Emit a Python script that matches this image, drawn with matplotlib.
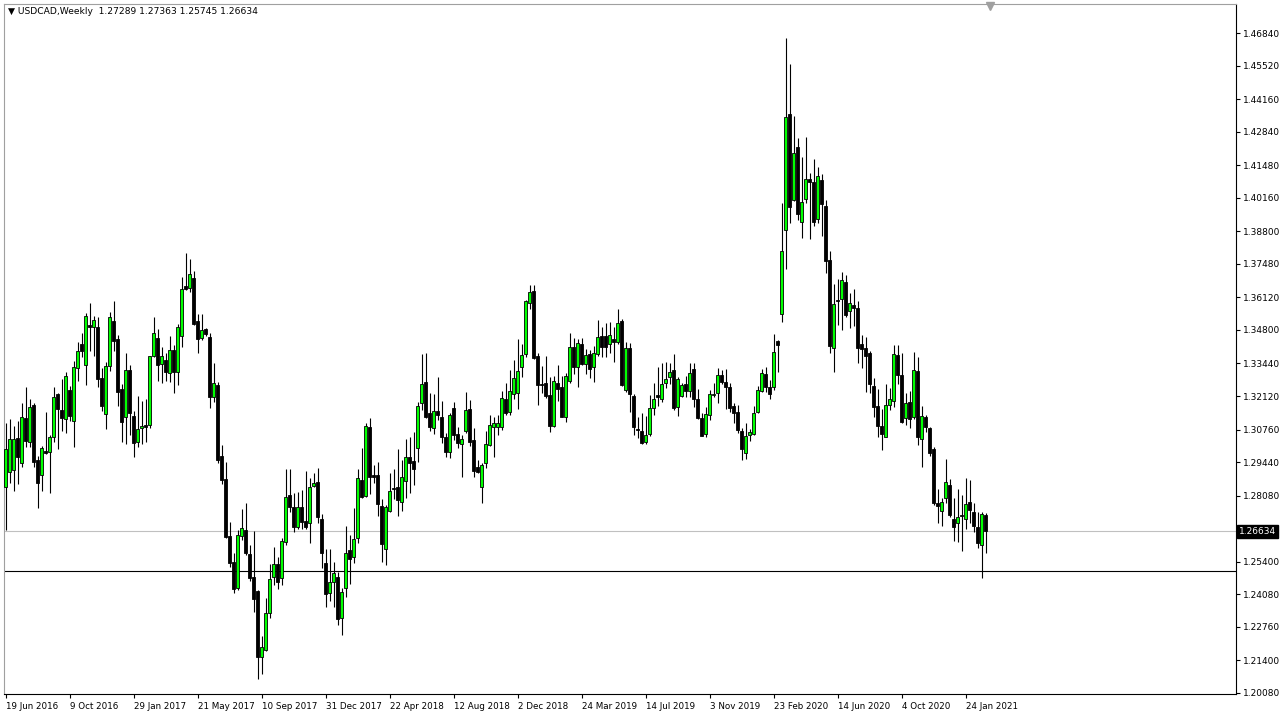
import numpy as np
import matplotlib.pyplot as plt
import matplotlib.transforms as mtransforms

# USDCAD weekly candles, 19 Jun 2016 .. 28 Feb 2021
opens = [
    1.2842, 1.2905, 1.2912, 1.3041, 1.2939, 1.3122, 1.3027, 1.3174, 1.2953, 1.2890,
    1.2988, 1.2986, 1.3047, 1.3220, 1.3155, 1.3118, 1.3236, 1.3112, 1.3324, 1.3422,
    1.3336, 1.3500, 1.3491, 1.3491, 1.3284, 1.3138, 1.3334, 1.3515, 1.3442, 1.3242,
    1.3126, 1.3316, 1.3131, 1.3024, 1.3083, 1.3093, 1.3093, 1.3376, 1.3446, 1.3341,
    1.3358, 1.3304, 1.3399, 1.3308, 1.3457, 1.3658, 1.3649, 1.3689, 1.3515, 1.3446,
    1.3483, 1.3453, 1.3209, 1.3257, 1.2969, 1.2876, 1.2644, 1.2540, 1.2432, 1.2646,
    1.2669, 1.2571, 1.2477, 1.2421, 1.2155, 1.2184, 1.2331, 1.2479, 1.2530, 1.2473,
    1.2619, 1.2810, 1.2761, 1.2682, 1.2761, 1.2705, 1.2696, 1.2848, 1.2862, 1.2713,
    1.2534, 1.2412, 1.2459, 1.2477, 1.2311, 1.2432, 1.2588, 1.2558, 1.2637, 1.2870,
    1.2808, 1.3085, 1.2891, 1.2891, 1.2765, 1.2590, 1.2747, 1.2840, 1.2843, 1.2781,
    1.2867, 1.2963, 1.2947, 1.3000, 1.3182, 1.3267, 1.3142, 1.3081, 1.3151, 1.3126,
    1.3045, 1.2986, 1.3162, 1.3057, 1.3017, 1.3071, 1.3159, 1.3034, 1.2924, 1.2844,
    1.2942, 1.3013, 1.3085, 1.3088, 1.3085, 1.3199, 1.3147, 1.3220, 1.3225, 1.3331,
    1.3381, 1.3590, 1.3638, 1.3374, 1.3261, 1.3266, 1.3216, 1.3092, 1.3266, 1.3250,
    1.3128, 1.3273, 1.3410, 1.3328, 1.3423, 1.3342, 1.3382, 1.3328, 1.3381, 1.3455,
    1.3455, 1.3423, 1.3442, 1.3432, 1.3516, 1.3236, 1.3405, 1.3212, 1.3078, 1.3070,
    1.3027, 1.3057, 1.3162, 1.3216, 1.3199, 1.3266, 1.3290, 1.3317, 1.3166, 1.3213,
    1.3261, 1.3233, 1.3321, 1.3199, 1.3122, 1.3057, 1.3135, 1.3215, 1.3223, 1.3297,
    1.3270, 1.3247, 1.3172, 1.3148, 1.3071, 1.2982, 1.3055, 1.3057, 1.3148, 1.3233,
    1.3301, 1.3247, 1.3250, 1.3435, 1.3545, 1.3885, 1.4354, 1.4007, 1.4221, 1.3919,
    1.4010, 1.4091, 1.4081, 1.3930, 1.4088, 1.3983, 1.3764, 1.3408, 1.3601, 1.3607,
    1.3674, 1.3558, 1.3580, 1.3568, 1.3423, 1.3405, 1.3387, 1.3253, 1.3172, 1.3090,
    1.3047, 1.3176, 1.3193, 1.3378, 1.3297, 1.3122, 1.3189, 1.3126, 1.3315, 1.3037,
    1.3126, 1.3081, 1.2997, 1.2779, 1.2747, 1.2797, 1.2851, 1.2712, 1.2698, 1.2730,
    1.2712, 1.2784, 1.2743, 1.2680, 1.2607, 1.27289,
]
highs = [
    1.3101, 1.3118, 1.3090, 1.3112, 1.3182, 1.3250, 1.3199, 1.3185, 1.2969, 1.3009,
    1.3146, 1.3053, 1.3247, 1.3223, 1.3282, 1.3309, 1.3252, 1.3353, 1.3431, 1.3466,
    1.3550, 1.3588, 1.3536, 1.3534, 1.3324, 1.3351, 1.3553, 1.3597, 1.3459, 1.3262,
    1.3388, 1.3338, 1.3152, 1.3212, 1.3193, 1.3201, 1.3376, 1.3531, 1.3483, 1.3412,
    1.3386, 1.3455, 1.3420, 1.3504, 1.3693, 1.3791, 1.3767, 1.3719, 1.3545, 1.3545,
    1.3488, 1.3466, 1.3347, 1.3270, 1.3014, 1.2944, 1.2701, 1.2574, 1.2669, 1.2754,
    1.2779, 1.2608, 1.2665, 1.2425, 1.2238, 1.2392, 1.2531, 1.2599, 1.2558, 1.2635,
    1.2916, 1.2916, 1.2820, 1.2823, 1.2831, 1.2909, 1.2878, 1.2901, 1.2920, 1.2733,
    1.2590, 1.2590, 1.2539, 1.2500, 1.2432, 1.2685, 1.2649, 1.2757, 1.2916, 1.3000,
    1.3104, 1.3122, 1.2932, 1.2944, 1.2793, 1.2770, 1.2901, 1.2916, 1.2998, 1.2953,
    1.3037, 1.3045, 1.3065, 1.3189, 1.3382, 1.3388, 1.3223, 1.3220, 1.3288, 1.3192,
    1.3061, 1.3142, 1.3189, 1.3088, 1.3054, 1.3229, 1.3196, 1.3083, 1.2953, 1.2942,
    1.3071, 1.3134, 1.3126, 1.3134, 1.3232, 1.3266, 1.3317, 1.3358, 1.3442, 1.3423,
    1.3601, 1.3662, 1.3662, 1.3388, 1.3334, 1.3375, 1.3290, 1.3293, 1.3338, 1.3293,
    1.3304, 1.3469, 1.3446, 1.3442, 1.3446, 1.3403, 1.3399, 1.3415, 1.3520, 1.3491,
    1.3507, 1.3513, 1.3493, 1.3564, 1.3523, 1.3432, 1.3428, 1.3220, 1.3128, 1.3142,
    1.3131, 1.3216, 1.3263, 1.3331, 1.3345, 1.3351, 1.3345, 1.3382, 1.3288, 1.3263,
    1.3293, 1.3345, 1.3347, 1.3239, 1.3144, 1.3169, 1.3236, 1.3266, 1.3324, 1.3317,
    1.3320, 1.3263, 1.3182, 1.3176, 1.3081, 1.3101, 1.3080, 1.3172, 1.3252, 1.3320,
    1.3331, 1.3277, 1.3463, 1.3439, 1.3996, 1.4663, 1.4558, 1.4347, 1.4257, 1.4182,
    1.4261, 1.4115, 1.4172, 1.4139, 1.4112, 1.4007, 1.3801, 1.3666, 1.3685, 1.3715,
    1.3703, 1.3631, 1.3645, 1.3597, 1.3459, 1.3450, 1.3396, 1.3284, 1.3239, 1.3158,
    1.3261, 1.3243, 1.3419, 1.3419, 1.3385, 1.3223, 1.3233, 1.3392, 1.3371, 1.3172,
    1.3135, 1.3085, 1.3004, 1.2834, 1.2797, 1.2957, 1.2874, 1.2797, 1.2834, 1.2811,
    1.2878, 1.2872, 1.2779, 1.2743, 1.2743, 1.27363,
]
lows = [
    1.2669, 1.2861, 1.2828, 1.2855, 1.2923, 1.3007, 1.3007, 1.2923, 1.2758, 1.2828,
    1.2977, 1.2820, 1.3026, 1.2998, 1.3071, 1.3061, 1.3112, 1.3004, 1.3274, 1.3369,
    1.3258, 1.3396, 1.3375, 1.3250, 1.3150, 1.3078, 1.3315, 1.3396, 1.3171, 1.3027,
    1.3016, 1.3052, 1.2964, 1.3004, 1.3017, 1.3026, 1.3081, 1.3369, 1.3274, 1.3264,
    1.3274, 1.3270, 1.3223, 1.3257, 1.3409, 1.3642, 1.3635, 1.3500, 1.3385, 1.3439,
    1.3455, 1.3162, 1.3189, 1.2942, 1.2855, 1.2635, 1.2520, 1.2412, 1.2425, 1.2628,
    1.2567, 1.2463, 1.2337, 1.2063, 1.2084, 1.2179, 1.2311, 1.2446, 1.2431, 1.2446,
    1.2608, 1.2743, 1.2662, 1.2672, 1.2672, 1.2674, 1.2617, 1.2844, 1.2696, 1.2513,
    1.2355, 1.2382, 1.2358, 1.2282, 1.2242, 1.2396, 1.2448, 1.2534, 1.2615, 1.2797,
    1.2804, 1.2815, 1.2861, 1.2725, 1.2540, 1.2527, 1.2742, 1.2794, 1.2727, 1.2747,
    1.2800, 1.2818, 1.2851, 1.2946, 1.3155, 1.3123, 1.3071, 1.3058, 1.3115, 1.3023,
    1.2966, 1.2959, 1.3034, 1.3000, 1.2885, 1.3061, 1.3009, 1.2882, 1.2898, 1.2780,
    1.2919, 1.3009, 1.2966, 1.3054, 1.3074, 1.3136, 1.3135, 1.3199, 1.3158, 1.3290,
    1.3369, 1.3564, 1.3361, 1.3176, 1.3225, 1.3203, 1.3067, 1.3085, 1.3193, 1.3126,
    1.3108, 1.3266, 1.3301, 1.3247, 1.3338, 1.3301, 1.3284, 1.3270, 1.3375, 1.3369,
    1.3369, 1.3385, 1.3351, 1.3423, 1.3252, 1.3229, 1.3148, 1.3054, 1.3040, 1.3017,
    1.3017, 1.3050, 1.3135, 1.3172, 1.3189, 1.3243, 1.3261, 1.3155, 1.3131, 1.3207,
    1.3207, 1.3209, 1.3169, 1.3118, 1.3050, 1.3047, 1.3115, 1.3209, 1.3185, 1.3261,
    1.3158, 1.3148, 1.3101, 1.3063, 1.2953, 1.2955, 1.3028, 1.3054, 1.3144, 1.3229,
    1.3229, 1.3199, 1.3236, 1.3311, 1.3513, 1.3726, 1.3915, 1.4004, 1.3926, 1.3851,
    1.3996, 1.3847, 1.3901, 1.3912, 1.3861, 1.3712, 1.3388, 1.3311, 1.3500, 1.3480,
    1.3534, 1.3487, 1.3496, 1.3347, 1.3324, 1.3229, 1.3225, 1.3128, 1.3047, 1.2993,
    1.3045, 1.3155, 1.3166, 1.3261, 1.3104, 1.3093, 1.3081, 1.3118, 1.3013, 1.2925,
    1.3067, 1.2969, 1.2770, 1.2698, 1.2685, 1.2779, 1.2723, 1.2625, 1.2621, 1.2585,
    1.2672, 1.2696, 1.2662, 1.2594, 1.2473, 1.25745,
]
closes = [
    1.2996, 1.3037, 1.3037, 1.2966, 1.3126, 1.3031, 1.3166, 1.2946, 1.2861, 1.3000,
    1.2980, 1.3045, 1.3207, 1.3160, 1.3121, 1.3292, 1.3131, 1.3328, 1.3395, 1.3396,
    1.3536, 1.3493, 1.3520, 1.3282, 1.3171, 1.3334, 1.3531, 1.3437, 1.3229, 1.3106,
    1.3316, 1.3144, 1.3020, 1.3078, 1.3089, 1.3087, 1.3374, 1.3466, 1.3338, 1.3374,
    1.3311, 1.3399, 1.3311, 1.3491, 1.3645, 1.3645, 1.3707, 1.3503, 1.3442, 1.3480,
    1.3463, 1.3209, 1.3263, 1.2953, 1.2872, 1.2639, 1.2536, 1.2431, 1.2648, 1.2676,
    1.2576, 1.2473, 1.2387, 1.2155, 1.2193, 1.2331, 1.2470, 1.2530, 1.2459, 1.2624,
    1.2801, 1.2761, 1.2682, 1.2761, 1.2702, 1.2680, 1.2842, 1.2858, 1.2720, 1.2574,
    1.2408, 1.2457, 1.2493, 1.2307, 1.2418, 1.2574, 1.2550, 1.2631, 1.2878, 1.2804,
    1.3090, 1.2885, 1.2884, 1.2773, 1.2611, 1.2761, 1.2826, 1.2834, 1.2790, 1.2882,
    1.2963, 1.2941, 1.2917, 1.3172, 1.3261, 1.3126, 1.3085, 1.3151, 1.3135, 1.3047,
    1.2986, 1.3134, 1.3054, 1.3023, 1.3038, 1.3155, 1.3027, 1.2909, 1.2905, 1.2931,
    1.3016, 1.3093, 1.3101, 1.3104, 1.3203, 1.3142, 1.3233, 1.3284, 1.3313, 1.3378,
    1.3597, 1.3632, 1.3367, 1.3257, 1.3258, 1.3212, 1.3092, 1.3273, 1.3239, 1.3128,
    1.3293, 1.3410, 1.3331, 1.3426, 1.3342, 1.3378, 1.3320, 1.3387, 1.3450, 1.3412,
    1.3410, 1.3459, 1.3432, 1.3509, 1.3257, 1.3405, 1.3219, 1.3087, 1.3076, 1.3023,
    1.3054, 1.3162, 1.3199, 1.3209, 1.3259, 1.3281, 1.3309, 1.3162, 1.3281, 1.3257,
    1.3233, 1.3304, 1.3199, 1.3122, 1.3050, 1.3138, 1.3220, 1.3220, 1.3297, 1.3270,
    1.3247, 1.3162, 1.3144, 1.3074, 1.2996, 1.3050, 1.3066, 1.3142, 1.3236, 1.3304,
    1.3247, 1.3219, 1.3389, 1.3419, 1.3800, 1.4342, 1.3980, 1.4196, 1.3949, 1.3997,
    1.4091, 1.4081, 1.3919, 1.4104, 1.3991, 1.3761, 1.3415, 1.3585, 1.3598, 1.3682,
    1.3541, 1.3590, 1.3570, 1.3405, 1.3401, 1.3374, 1.3261, 1.3166, 1.3090, 1.3058,
    1.3176, 1.3199, 1.3382, 1.3297, 1.3108, 1.3182, 1.3118, 1.3317, 1.3045, 1.3131,
    1.3088, 1.2982, 1.2777, 1.2766, 1.2781, 1.2862, 1.2730, 1.2682, 1.2723, 1.2727,
    1.2774, 1.2750, 1.2685, 1.2615, 1.2732, 1.26634,
]

date_labels = ["19 Jun 2016", "9 Oct 2016", "29 Jan 2017", "21 May 2017", "10 Sep 2017",
               "31 Dec 2017", "22 Apr 2018", "12 Aug 2018", "2 Dec 2018", "24 Mar 2019",
               "14 Jul 2019", "3 Nov 2019", "23 Feb 2020", "14 Jun 2020", "4 Oct 2020",
               "24 Jan 2021"]
price_ticks = [1.46840, 1.45520, 1.44160, 1.42840, 1.41480, 1.40160, 1.38800, 1.37480,
               1.36120, 1.34800, 1.33440, 1.32120, 1.30760, 1.29440, 1.28080, 1.26760,
               1.25400, 1.24080, 1.22760, 1.21400, 1.20080]
last_price = 1.26634
drawn_level = 1.2502

o = np.array(opens)
h = np.array(highs)
l = np.array(lows)
c = np.array(closes)
x = np.arange(len(c))
up = c >= o

W, H = 1286, 719
fig = plt.figure(figsize=(W / 100, H / 100), dpi=100)
fig.patch.set_facecolor('white')
ax = fig.add_axes([4 / W, 25 / H, 1232 / W, 690 / H])

ax.set_xlim(-0.375, 307.6)
ax.set_ylim(1.20036, 1.48016)

# levels
ax.axhline(last_price, color='#c0c0c0', lw=0.8, zorder=1)
ax.axhline(drawn_level, color='black', lw=0.8, zorder=1)

# candles
ax.vlines(x, l, h, color='black', lw=0.8, zorder=2)
ax.bar(x[up], (c - o)[up], bottom=o[up], width=0.6, color='#00ff00',
       edgecolor='black', linewidth=0.6, zorder=3)
ax.bar(x[~up], (c - o)[~up], bottom=o[~up], width=0.6, color='black',
       edgecolor='black', linewidth=0.6, zorder=3)

# axes look
for side in ['top', 'left']:
    ax.spines[side].set_color('#a0a0a0')
for side in ['right', 'bottom']:
    ax.spines[side].set_color('black')
    ax.spines[side].set_linewidth(0.8)

# the scale label under the last-price box is hidden in the terminal
ax.yaxis.tick_right()
ax.set_yticks(price_ticks)
ax.set_yticklabels(["" if abs(p - last_price) < 0.003 else f"{p:.5f}" for p in price_ticks])
ax.tick_params(axis='y', direction='out', length=3, width=0.8, pad=2,
               labelsize=6.5, colors='black')

ax.set_xticks(x[::16])
ax.set_xticklabels(date_labels, ha='left')
ax.tick_params(axis='x', direction='out', length=3, width=0.8, pad=3,
               labelsize=6.3)

# last price box on the scale
trans = mtransforms.blended_transform_factory(ax.transAxes, ax.transData)
ax.text(1.0 + 3 / 1232, last_price, "1.26634", transform=trans, ha='left',
        va='center', fontsize=6.5, color='white', zorder=5,
        bbox=dict(boxstyle='square,pad=0.2', fc='black', ec='black'))

# header and chart shift marker
fig.text(8 / W, 1 - 12 / H, "\u25bc USDCAD,Weekly  1.27289 1.27363 1.25745 1.26634",
         fontsize=6.6, va='center', ha='left')
ax.plot([(990 - 4) / 1232], [1 - 2 / 690], marker='v', markersize=6,
        color='#a0a0a0', transform=ax.transAxes, clip_on=False)

fig.savefig('out.png', dpi=100, facecolor='white')
